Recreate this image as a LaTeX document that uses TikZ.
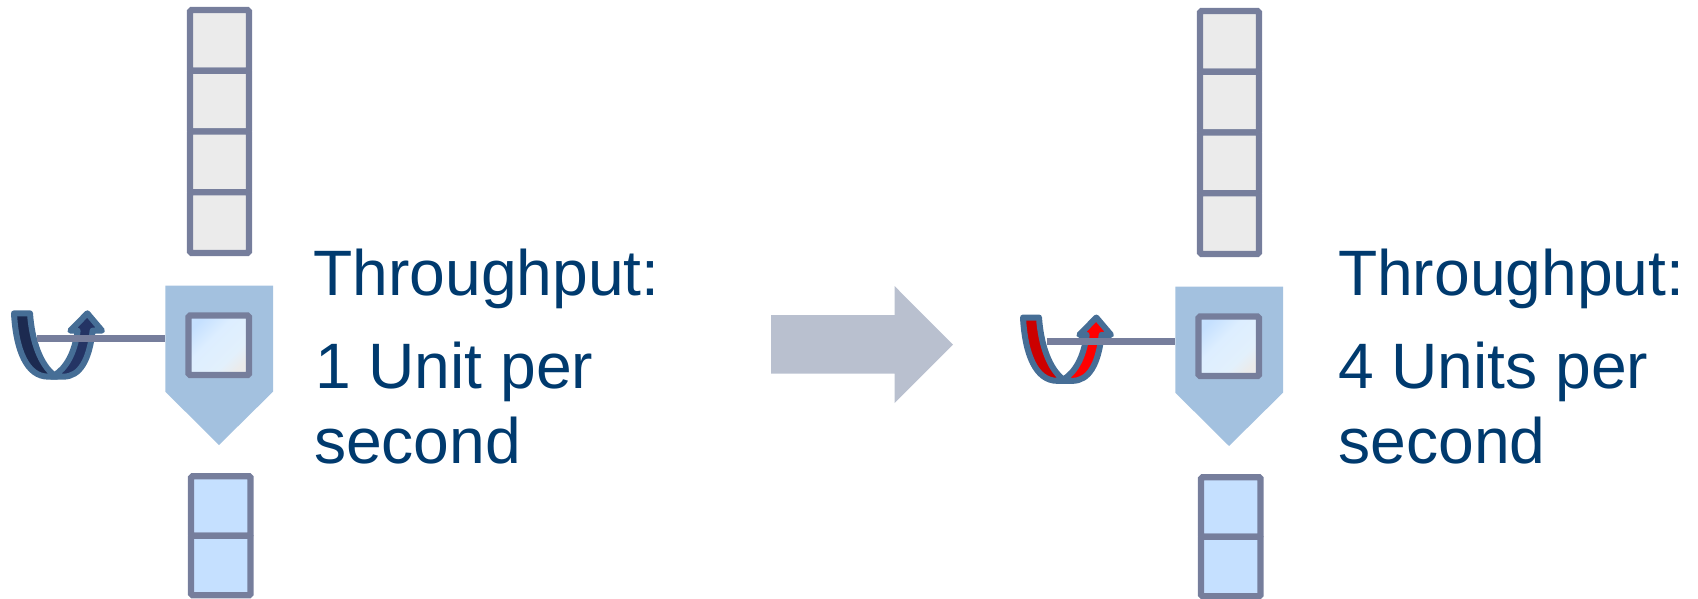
\documentclass[tikz,border=0pt]{standalone}
\usepackage{fontspec}
\setmainfont{Liberation Sans}
\definecolor{cellline}{HTML}{767E9C}
\definecolor{grayfill}{HTML}{EBEBEB}
\definecolor{bluefill}{HTML}{C5E0FF}
\definecolor{midone}{HTML}{DDEEFF}
\definecolor{midtwo}{HTML}{E2F0FC}
\definecolor{penta}{HTML}{A3C1DF}
\definecolor{txt}{HTML}{003A6E}
\definecolor{bigarrow}{HTML}{B9C0CF}
\definecolor{turnline}{HTML}{466E96}
\definecolor{darkback}{HTML}{1C2A50}
\definecolor{darkfront}{HTML}{243464}
\definecolor{redback}{HTML}{CC0000}
\definecolor{redfront}{HTML}{FF0000}
\pgfdeclareverticalshading{sqshade}{100bp}{color(0bp)=(grayfill); color(25bp)=(grayfill); color(36bp)=(midtwo); color(58bp)=(midone); color(76bp)=(bluefill); color(100bp)=(bluefill)}
\tikzset{
  x=1pt,y=-1pt,
  cell/.style={draw=cellline,line width=6.3pt,rounded corners=1.5pt,inner sep=0pt,outer sep=0pt,minimum width=#1},
  graycell/.style={cell=59pt,fill=grayfill,minimum height=60.75pt},
  bluecell/.style={cell=59.5pt,fill=bluefill,minimum height=59.5pt},
  lever/.style={draw=cellline,line width=6.8pt},
  turnshape/.style={draw=turnline,line width=6pt,line join=round},
  label/.style={anchor=base west,inner sep=0pt,outer sep=0pt,text=txt,font=\fontsize{64.2}{64.2}\selectfont},
}
% #1 prefix, #2 dx, #3 dy stack, #4 arrow dx, #5 arrow dy, #6 back colour, #7 front colour, #8 lever y
\newcommand{\stagegroup}[8]{%
  \begin{scope}[shift={(#2,#3)}]
    \node[graycell] (#1g1) at (219.5,40.4) {};
    \node[graycell] (#1g2) at (219.5,101.1) {};
    \node[graycell] (#1g3) at (219.5,161.9) {};
    \node[graycell] (#1g4) at (219.5,222.6) {};
    \fill[penta] (165.3,285.7) -- (273,285.7) -- (273,391.7) -- (219,445) -- (165.3,391.7) -- cycle;
    \node[cell=60.5pt,minimum height=59.5pt,shade,shading=sqshade,shading angle=45] (#1sq) at (218.8,345.3) {};
    \node[bluecell] (#1b1) at (220.8,506) {};
    \node[bluecell] (#1b2) at (220.8,565.5) {};
  \end{scope}
  \begin{scope}[shift={(#4,#5)},x=0.3333pt,y=-0.3333pt]
    \filldraw[turnshape,fill=#7] (163,346) .. controls (198,325) and (224,280) .. (233,212)
      -- (211,212) -- (262,160) -- (306,212) -- (278,212)
      .. controls (268,300) and (240,350) .. (190,350) -- (155,350) -- cycle;
    \filldraw[turnshape,fill=#6] (42,160) -- (90,160)
      .. controls (96,245) and (122,315) .. (163,346)
      -- (170,350) -- (145,350) .. controls (80,350) and (48,270) .. cycle;
  \end{scope}
  \begin{scope}[shift={(#2,0)}]
    \coordinate (#1free) at (36.7,#8);
    \coordinate (#1attach) at (165.3,#8);
  \end{scope}
}
\begin{document}
\begin{tikzpicture}
\useasboundingbox (0,0) rectangle (1698,599);
\stagegroup{l}{0}{0}{0}{260}{darkback}{darkfront}{338.7}
\stagegroup{r}{1010}{1}{1009}{264.2}{redback}{redfront}{341.3}
\draw[lever] (lfree) -- (lattach);
\draw[lever] (rfree) -- (rattach);
\fill[bigarrow] (771,315) -- (894.5,315) -- (894.5,286) -- (953,344.6) -- (894.5,403) -- (894.5,373.6) -- (771,373.6) -- cycle;
\node[label] (t1) at (313.5,295) {Throughput:};
\node[label] (t2) at (315,388) {1 Unit per};
\node[label] (t3) at (314,463) {second};
\node[label] (t4) at (1338,295) {Throughput:};
\node[label] (t5) at (1338,388) {4 Units per};
\node[label] (t6) at (1338.5,463) {second};
\end{tikzpicture}
\end{document}
